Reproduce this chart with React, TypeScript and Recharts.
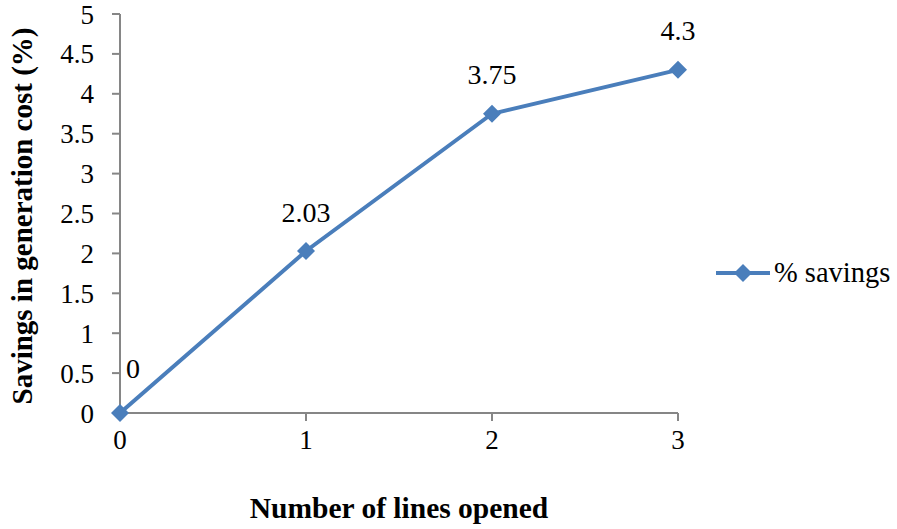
import React from 'react';
import { LineChart, Line, XAxis, YAxis, Legend, Label, LabelList } from 'recharts';

const linesOpened = [0, 1, 2, 3];
const savings = [0, 2.03, 3.75, 4.3];
const yTicks = [0, 0.5, 1, 1.5, 2, 2.5, 3, 3.5, 4, 4.5, 5];
const seriesName = '% savings';

const data = linesOpened.map((x, i) => ({ x, y: savings[i] }));

const COLOR = '#4a7ebb';
const AXIS = '#868686';
const FONT = "'Liberation Serif', 'Times New Roman', serif";

const Diamond = (props: any) => {
  const { cx, cy } = props;
  if (cx == null || cy == null) return null;
  const r = 9;
  return (
    <polygon
      points={`${cx},${cy - r} ${cx + r},${cy} ${cx},${cy + r} ${cx - r},${cy}`}
      fill={COLOR}
      stroke="none"
    />
  );
};

const ValueLabel = (props: any) => {
  const { x, y, value, index } = props;
  const dx = index === 0 ? 13 : 0;
  const dy = index === 0 ? 45 : 39;
  return (
    <text x={x + dx} y={y - dy} textAnchor="middle" dominantBaseline="central" style={{ fontSize: 28, fontFamily: FONT }} fill="#000">
      {value}
    </text>
  );
};

const LegendContent = () => (
  <div style={{ display: 'flex', alignItems: 'center', fontFamily: FONT, fontSize: 28.5, color: '#000', whiteSpace: 'nowrap', lineHeight: '24px' }}>
    <svg width={56} height={20} style={{ marginRight: 3 }}>
      <line x1={1} y1={10} x2={55} y2={10} stroke={COLOR} strokeWidth={4} />
      <polygon points="28,1 37,10 28,19 19,10" fill={COLOR} />
    </svg>
    <span>{seriesName}</span>
  </div>
);

const tickStyle = { fontSize: 27, fontFamily: FONT, fill: '#000' };

export default function App() {
  return (
    <div style={{ position: 'absolute', left: 0, top: 0, width: 897, height: 529, background: '#fff', fontFamily: FONT }}>
      <LineChart width={897} height={529} data={data} margin={{ top: 14, right: 219, bottom: 0, left: 0 }} style={{ fontFamily: FONT }}>
        <XAxis
          dataKey="x"
          type="number"
          domain={[0, 3]}
          ticks={linesOpened}
          axisLine={{ stroke: AXIS, strokeWidth: 2 }}
          tickLine={{ stroke: AXIS, strokeWidth: 2 }}
          tickSize={8}
          tickMargin={9}
          tick={{ ...tickStyle, style: tickStyle }}
          height={116}
        >
          <Label
            content={() => (
              <text x={399} y={508} textAnchor="middle" dominantBaseline="central" style={{ fontSize: 29.5, fontWeight: 'bold', fontFamily: FONT }} fill="#000">
                Number of lines opened
              </text>
            )}
          />
        </XAxis>
        <YAxis
          type="number"
          domain={[0, 5]}
          ticks={yTicks}
          interval={0}
          width={120}
          axisLine={{ stroke: AXIS, strokeWidth: 2 }}
          tickLine={{ stroke: AXIS, strokeWidth: 2 }}
          tickSize={8}
          tickMargin={18}
          tick={{ ...tickStyle, style: tickStyle }}
        >
          <Label
            content={() => (
              <text x={22} y={216} transform="rotate(-90 22 216)" textAnchor="middle" dominantBaseline="central" style={{ fontSize: 29, fontWeight: 'bold', fontFamily: FONT }} fill="#000">
                Savings in generation cost (%)
              </text>
            )}
          />
        </YAxis>
        <Legend
          layout="vertical"
          align="center"
          verticalAlign="middle"
          wrapperStyle={{ left: 715, top: 261, width: 182, height: 24 }}
          content={LegendContent}
        />
        <Line
          dataKey="y"
          name={seriesName}
          stroke={COLOR}
          strokeWidth={4}
          dot={<Diamond />}
          activeDot={false}
          isAnimationActive={false}
        >
          <LabelList dataKey="y" content={<ValueLabel />} />
        </Line>
      </LineChart>
    </div>
  );
}
